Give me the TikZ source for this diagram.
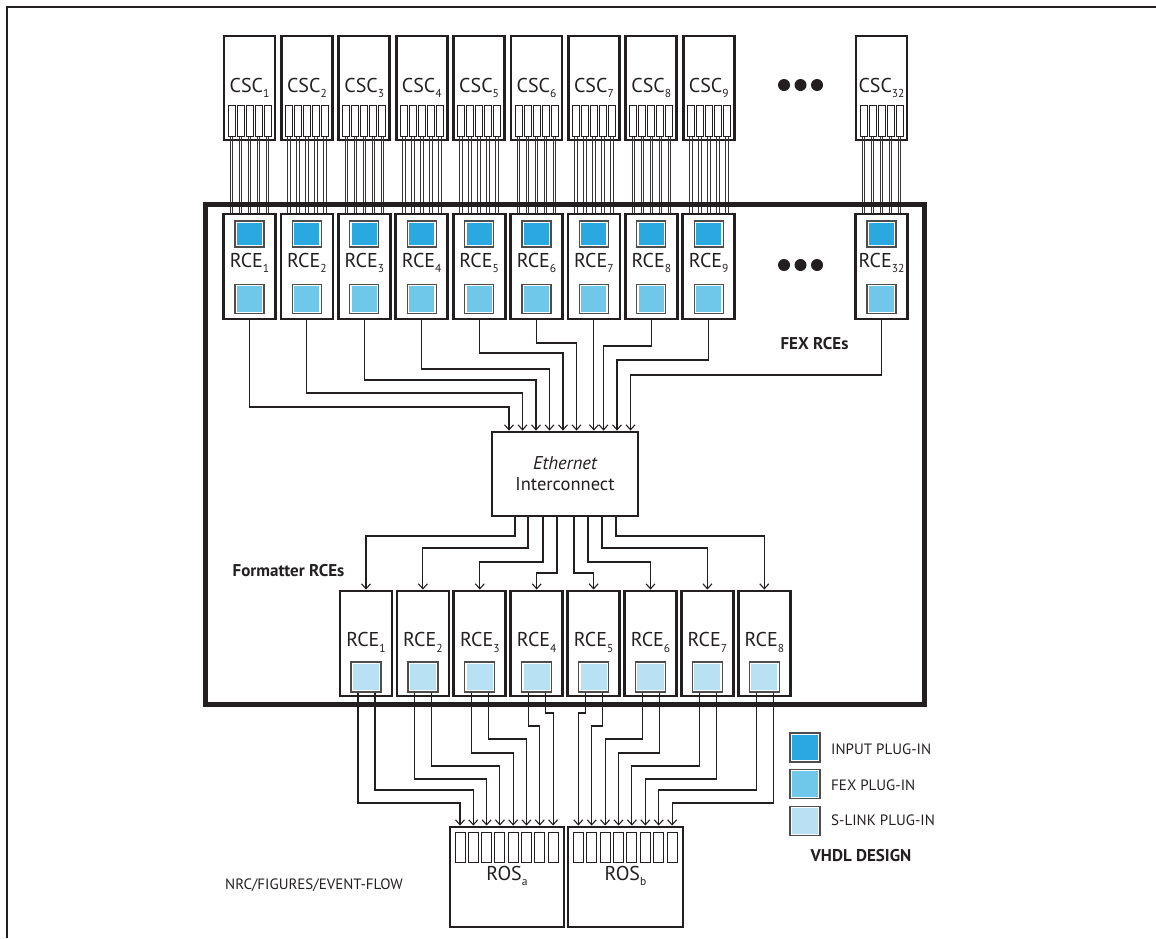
\documentclass[tikz,border=0pt]{standalone}
\usepackage{fontspec}
\setmainfont{PT Sans}
\usetikzlibrary{arrows.meta}
\definecolor{ink}{HTML}{231F20}
\definecolor{inputc}{HTML}{29A9E0}
\definecolor{fexc}{HTML}{6FC7EA}
\definecolor{slinkc}{HTML}{B8E2F4}
\definecolor{plugedge}{HTML}{4D4D4D}
\newcommand{\sbs}[1]{\raisebox{-0.28em}{\fontsize{11.5}{11.5}\selectfont #1}}
\begin{document}
\begin{tikzpicture}[x=1pt,y=-1pt,
  board/.style={draw=ink, line width=2.8pt, fill=white, minimum width=51pt, minimum height=104pt, inner sep=0pt},
  slot/.style={draw=ink, line width=1pt, fill=white, minimum width=7pt, minimum height=31pt, inner sep=0pt},
  rslot/.style={draw=ink, line width=1pt, fill=white, minimum width=10pt, minimum height=30pt, inner sep=0pt},
  plug/.style={draw=plugedge, line width=1.3pt, inner sep=0pt, minimum width=29pt, minimum height=29pt,
    path picture={\draw[white,line width=1.3pt] ([shift={(1.3pt,1.3pt)}]path picture bounding box.south west) rectangle ([shift={(-1.3pt,-1.3pt)}]path picture bounding box.north east);}},
  cable/.style={draw=ink!90, line width=1pt},
  wire/.style={draw=ink, line width=1.1pt},
  arr/.style={wire, -{Straight Barb[length=5pt,width=9pt,line width=1.1pt]}},
  lbl/.style={text=ink, inner sep=0pt, anchor=base, font=\fontsize{20}{20}\selectfont},
  small/.style={text=ink, inner sep=0pt, anchor=base west, font=\fontsize{15}{15}\selectfont},
  heading/.style={text=ink, inner sep=0pt, anchor=base, font=\fontsize{17}{17}\selectfont\bfseries},
  dot/.style={circle, fill=ink, minimum size=12pt, inner sep=0pt}
]
\useasboundingbox (0,0) rectangle (1156,938);
% page border
\draw[ink, line width=2pt] (7,938) -- (7,7) -- (1156,7);

% CSC boards
\foreach \i/\x in {1/249.5,2/306.9,3/364.3,4/421.7,5/479.1,6/536.5,7/593.9,8/651.3,9/708.7,32/881.5}{
  \node[board] (csc\i) at (\x,88) {};
  \node[lbl] (csct\i) at (\x,92) {CSC\sbs{\i}};
  \foreach \k in {1,...,5}{
    \node[slot] (csc\i-s\k) at ({\x+9*(\k-3)},120.5) {};
  }
}
% cables (each a pair of thin lines)
\foreach \i in {1,2,3,4,5,6,7,8,9,32}{
  \foreach \k in {1,...,5}{
    \draw[cable] ([xshift=-1.3pt]csc\i-s\k.south) -- ++(0,78);
    \draw[cable] ([xshift=1.3pt]csc\i-s\k.south) -- ++(0,78);
  }
}
% crate frame
\node[draw=ink, line width=5pt, minimum width=719pt, minimum height=500pt, inner sep=0pt] (crate) at (564.5,454) {};

% FEX RCEs
\foreach \i/\x in {1/249.5,2/306.9,3/364.3,4/421.7,5/479.1,6/536.5,7/593.9,8/651.3,9/708.7,32/881.5}{
  \node[board, minimum width=52pt, minimum height=105pt] (rce\i) at (\x,266.5) {};
  \node[plug, fill=inputc, minimum height=26pt] (rce\i-in) at (\x,234) {};
  \node[plug, fill=fexc] (rce\i-fx) at (\x,299) {};
  \node[lbl] (rcet\i) at (\x,267) {RCE\sbs{\i}};
}
\foreach \j/\y in {1/85,2/265}{
  \node[dot] (dotsa\j) at (784,\y) {};
  \node[dot] (dotsb\j) at (800.5,\y) {};
  \node[dot] (dotsc\j) at (817,\y) {};
}
\node[heading] (fexlbl) at (814.5,349) {FEX RCEs};

% Ethernet interconnect
\node[draw=ink, line width=2.8pt, fill=white, minimum width=146pt, minimum height=84pt, inner sep=0pt] (eth) at (565,474) {};
\node[lbl, font=\fontsize{18.5}{18.5}\selectfont\itshape] (etht1) at (565,469) {Ethernet};
\node[lbl, font=\fontsize{18.5}{18.5}\selectfont] (etht2) at (565,490.7) {Interconnect};

\foreach \i/\ax/\ly in {1/509/407,2/522.5/393,3/536/380,4/549.5/369,5/563/353,6/576.5/343,8/603.5/346,9/617/360,32/630.5/375}{
  \draw[arr] (rce\i.south) |- (\ax,\ly) -- (\ax,0 |- eth.north);
}
\draw[arr] (rce7.south) -- (rce7.south |- eth.north);

% Formatter RCEs
\foreach \i/\x in {1/366,2/422.9,3/479.8,4/536.7,5/593.6,6/650.5,7/707.4,8/764.3}{
  \node[board, minimum width=52pt, minimum height=105pt] (fmt\i) at (\x,643.5) {};
  \node[lbl] (fmtt\i) at (\x,646.7) {RCE\sbs{\i}};
  \node[plug, fill=slinkc, minimum width=30pt, minimum height=30pt] (fmt\i-sl) at (\x,677) {};
}
\node[heading] (fmtlbl) at (288.5,576.7) {Formatter RCEs};

\foreach \i/\ex/\ly in {1/515/536,2/528/548,3/543/562,4/557/573,5/574/573,6/588/562,7/602/548,8/616/536}{
  \draw[arr] (\ex,0 |- eth.south) -- (\ex,\ly) -| (fmt\i.north);
}

% ROS boxes
\node[draw=ink, line width=2.8pt, fill=white, minimum width=114pt, minimum height=100pt, inner sep=0pt] (rosa) at (507,877) {};
\node[draw=ink, line width=2.8pt, fill=white, minimum width=115pt, minimum height=100pt, inner sep=0pt] (rosb) at (625.5,877) {};
\node[lbl] (rosat) at (507,880) {ROS\sbs{a}};
\node[lbl] (rosbt) at (625.5,880) {ROS\sbs{b}};
\foreach \k in {1,...,8}{
  \node[rslot] (rosa-s\k) at ({460+13.3*(\k-1)},847) {};
  \node[rslot] (rosb-s\k) at ({578.3+13.4*(\k-1)},847) {};
}
\foreach \i/\dx/\r/\k/\ly in {1/-8/a/1/803,1/9/a/2/790,2/-8/a/3/779,2/9/a/4/766,3/-8/a/5/753,3/9/a/6/739,4/-8/a/7/726,4/9/a/8/713,
  5/-8/b/1/713,5/9/b/2/726,6/-8/b/3/739,6/9/b/4/753,7/-8/b/5/766,7/9/b/6/779,8/-8/b/7/790,8/9/b/8/803}{
  \draw[arr] ([xshift=\dx pt]fmt\i-sl.south) |- (ros\r-s\k.north |- 0,\ly) -- (ros\r-s\k.north |- ros\r.north);
}

% legend
\node[plug, fill=inputc, minimum width=30pt] (leg1) at (805,747.5) {};
\node[plug, fill=fexc, minimum width=30pt] (leg2) at (805,784) {};
\node[plug, fill=slinkc, minimum width=30pt] (leg3) at (805,821) {};
\node[small] (leg1t) at (831,754) {INPUT PLUG-IN};
\node[small] (leg2t) at (831,790) {FEX PLUG-IN};
\node[small] (leg3t) at (831,825.7) {S-LINK PLUG-IN};
\node[heading] (vhdl) at (861,861.7) {VHDL DESIGN};
\node[small] (nrc) at (225,889) {NRC/FIGURES/EVENT-FLOW};
\end{tikzpicture}
\end{document}
